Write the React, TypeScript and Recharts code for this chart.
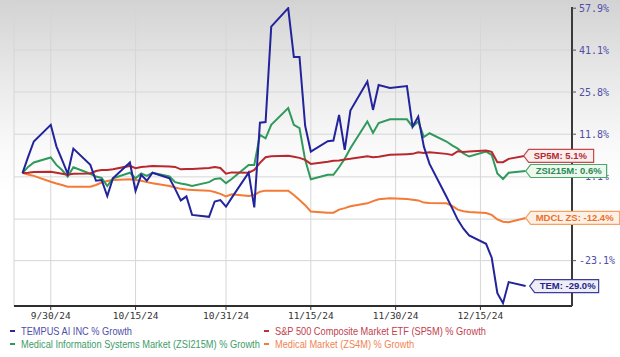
import React from 'react';
import { LineChart, Line, XAxis, YAxis, CartesianGrid } from 'recharts';

const DATES = [
  '2024-09-25', '2024-09-26', '2024-09-27', '2024-09-30',
  '2024-10-01', '2024-10-02', '2024-10-03', '2024-10-04',
  '2024-10-07', '2024-10-08', '2024-10-09', '2024-10-10', '2024-10-11',
  '2024-10-14', '2024-10-15', '2024-10-16', '2024-10-17', '2024-10-18',
  '2024-10-21', '2024-10-22', '2024-10-23', '2024-10-24', '2024-10-25',
  '2024-10-28', '2024-10-29', '2024-10-30', '2024-10-31',
  '2024-11-01',
  '2024-11-04', '2024-11-05', '2024-11-06', '2024-11-07', '2024-11-08',
  '2024-11-11', '2024-11-12', '2024-11-13', '2024-11-14', '2024-11-15',
  '2024-11-18', '2024-11-19', '2024-11-20', '2024-11-21', '2024-11-22',
  '2024-11-25', '2024-11-26', '2024-11-27', '2024-11-29',
  '2024-12-02', '2024-12-03', '2024-12-04', '2024-12-05', '2024-12-06',
  '2024-12-09', '2024-12-10', '2024-12-11', '2024-12-12', '2024-12-13',
  '2024-12-16', '2024-12-17', '2024-12-18', '2024-12-19', '2024-12-20',
  '2024-12-23',
];

const TEM = [
  0, 4.8, 9.5, 14.8,
  8.0, 3.9, -0.2, 7.3,
  2.4, -2.2, -2.0, -6.5, -1.5,
  3.1, -5.1, -0.5, -2.2, 0.1,
  -1.5, -4.5, -7.7, -6.6, -11.6,
  -12.1, -8.0, -7.6, -9.4,
  -7.0,
  0.1, -9.6, 15.5, 15.7, 50.3,
  57.9, 38.5, 38.5, 14.5, 6.4,
  9.6, 9.8, 18.0, 6.9, 19.5,
  29.5, 19.7, 28.3, 27.2,
  27.9, 14.2, 17.5, 7.9, 2.7,
  -6.7, -9.8, -12.9, -15.2, -16.9,
  -19.0, -22.4, -30.6, -32.8, -28.1,
  -29.0,
];

const ZSI215M = [
  0, 1.8, 3.1, 4.6,
  2.4, 0.9, -1.0, 1.7,
  -0.2, -1.0, -1.4, -3.7, -1.5,
  0.1, -1.5, -0.1, -0.8, 0.1,
  -1.0, -2.6, -3.0, -3.3, -3.7,
  -2.6, -1.7, -1.5, -2.9,
  -1.7,
  2.4, 2.4, 11.6, 10.5, 14.8,
  20.3, 14.8, 13.7, 3.9, -1.8,
  -0.5, -0.5, 1.7, 4.2, 7.4,
  15.9, 12.2, 15.4, 16.6,
  16.6, 14.2, 15.9, 10.9, 12.1,
  9.5, 8.3, 7.3, 5.8, 4.9,
  6.4, 5.4, -0.1, -1.7, 0.1,
  0.6,
];

const SP5M = [
  0, 0.1, 0.3, 0.4,
  0.1, -0.2, -0.5, -0.2,
  -0.1, 0.6, 0.9, 0.9, 1.1,
  2.1, 1.4, 1.8, 1.9, 2.1,
  1.9, 1.8, 1.1, 1.2, 1.2,
  1.5, 1.8, 1.5, -0.2,
  0.2,
  0.1, 0.9, 3.0, 4.7, 5.0,
  5.1, 4.8, 4.5, 3.9, 2.7,
  3.3, 3.6, 3.7, 4.0, 4.2,
  5.0, 4.7, 4.8, 5.4,
  5.6, 5.7, 6.2, 6.0, 6.2,
  5.7, 5.4, 6.5, 6.3, 6.4,
  6.7, 6.3, 3.2, 3.2, 4.2,
  5.1,
];

const MDCL = [
  0, -0.4, -0.8, -2.5,
  -3.0, -3.4, -3.9, -3.9,
  -3.9, -3.4, -2.7, -2.3, -2.0,
  -1.8, -2.0, -2.2, -2.6, -2.9,
  -3.7, -4.1, -4.5, -4.7, -4.8,
  -5.0, -5.4, -5.9, -6.6,
  -6.0,
  -6.5, -6.2, -5.3, -5.0, -5.0,
  -5.0, -6.2, -7.6, -9.0, -10.7,
  -11.0, -11.0, -10.2, -9.8, -9.3,
  -8.5, -7.9, -7.4, -7.1,
  -7.3, -7.5, -7.7, -8.3, -8.4,
  -8.5, -9.2, -10.2, -10.6, -10.8,
  -11.1, -11.6, -12.8, -13.4, -13.5,
  -12.4,
];

const X_TICK_DATES = ['2024-09-30', '2024-10-15', '2024-10-31', '2024-11-15', '2024-11-30', '2024-12-15'];
const X_TICK_LABELS = ['9/30/24', '10/15/24', '10/31/24', '11/15/24', '11/30/24', '12/15/24'];
const Y_TICKS = [57.9, 41.1, 25.8, 11.8, -1.1, -12.7, -23.1];

// The value axis is a shifted log axis: position ~ log(AXIS_SHIFT + growth%)
const AXIS_SHIFT = 130;
const START = Date.UTC(2024, 8, 25);
const dayOf = (iso: string) => {
  const [y, m, d] = iso.split('-').map(Number);
  return (Date.UTC(y, m - 1, d) - START) / 86400000;
};
const X_TICK_DAYS = X_TICK_DATES.map(dayOf);

const data = DATES.map((iso, i) => ({
  day: dayOf(iso),
  tem: TEM[i],
  sp5m: SP5M[i],
  zsi: ZSI215M[i],
  mdcl: MDCL[i],
}));

const SERIES = [
  { key: 'mdcl', values: MDCL, tag: 'MDCL ZS', color: '#f47b36', tagStroke: '#f2a267', tagFill: '#fdf1e6', tagText: '#ec6f2c', tagW: 89, tipDx: 0 },
  { key: 'zsi', values: ZSI215M, tag: 'ZSI215M', color: '#2f9a5c', tagStroke: '#4aa86c', tagFill: '#eef8ef', tagText: '#2a8a52', tagW: 76, tipDx: 0 },
  { key: 'sp5m', values: SP5M, tag: 'SP5M', color: '#b8282d', tagStroke: '#c24a4a', tagFill: '#fbeeee', tagText: '#b52a2f', tagW: 65, tipDx: -2 },
  { key: 'tem', values: TEM, tag: 'TEM', color: '#23239c', tagStroke: '#3c3c9c', tagFill: '#eeeef6', tagText: '#26268c', tagW: 64, tipDx: 4 },
];

const LEGEND = [
  { text: 'TEMPUS AI INC % Growth', color: '#4e4eaa', mark: '#2b2b9e', left: 10, top: 324 },
  { text: 'S&P 500 Composite Market ETF (SP5M) % Growth', color: '#c2404c', mark: '#c0303a', left: 264, top: 324 },
  { text: 'Medical Information Systems Market (ZSI215M) % Growth', color: '#3e9c6a', mark: '#2f9a5c', left: 10, top: 337 },
  { text: 'Medical Market (ZS4M) % Growth', color: '#f08454', mark: '#f47b36', left: 264, top: 337 },
];

const makeTag = (s: any) => (props: any) => {
  const { index } = props;
  if (index !== DATES.length - 1) return null;
  const x = props.x ?? props.viewBox?.x;
  const y = props.y ?? props.viewBox?.y;
  if (x == null || y == null) return null;
  const tip = x + s.tipDx;
  const h = 6.5;
  const right = tip + 5 + s.tagW;
  const pts = `${tip},${y} ${tip + 5},${y - h} ${right},${y - h} ${right},${y + h} ${tip + 5},${y + h}`;
  const v = s.values[s.values.length - 1];
  return (
    <g key={`tag-${s.key}`}>
      <polygon points={pts} fill={s.tagFill} stroke={s.tagStroke} strokeWidth={1.2} />
      <text x={tip + 10} y={y + 3.3} fontSize={9.5} fontWeight="bold" fontFamily="'Liberation Sans', Arial, sans-serif" fill={s.tagText}>
        {`${s.tag}: ${v.toFixed(1)}%`}
      </text>
    </g>
  );
};

export default function App() {
  return (
    <div
      style={{
        position: 'absolute',
        left: 0,
        top: 0,
        width: 620,
        height: 357,
        overflow: 'hidden',
        background: 'linear-gradient(to bottom, #d3d3d3 0%, #e9e9e9 22%, #fafafa 42%, #ffffff 55%, #ffffff 100%)',
      }}
    >
      <LineChart width={620} height={357} data={data} margin={{ top: 7, right: 0, bottom: 21, left: 14 }}>
        <CartesianGrid stroke="#d6d6d6" strokeWidth={1} />
        <XAxis
          dataKey="day"
          type="number"
          domain={[-1.5, 97.2]}
          allowDataOverflow
          ticks={X_TICK_DAYS}
          tickFormatter={(t: number) => X_TICK_LABELS[X_TICK_DAYS.indexOf(t)] ?? ''}
          height={30}
          axisLine={{ stroke: '#2e2e2e', strokeWidth: 2 }}
          tickLine={{ stroke: '#2e2e2e', strokeWidth: 1 }}
          tickSize={4}
          tickMargin={2}
          tick={{ fill: '#333333', fontSize: 9.5, fontFamily: "'DejaVu Sans Mono', monospace" }}
        />
        <YAxis
          orientation="right"
          type="number"
          scale="log"
          domain={[96.6, 188.4]}
          allowDataOverflow
          ticks={Y_TICKS.map((v) => v + AXIS_SHIFT)}
          tickFormatter={(t: number) => `${(t - AXIS_SHIFT).toFixed(1)}%`}
          width={48}
          axisLine={{ stroke: '#3a3a3a', strokeWidth: 2 }}
          tickLine={{ stroke: '#555555', strokeWidth: 1 }}
          tickSize={4}
          tickMargin={3}
          tick={{ fill: '#4f4fa8', fontSize: 10, fontFamily: "'DejaVu Sans Mono', monospace", textAnchor: 'start' }}
        />
        {SERIES.map((s) => (
          <Line
            key={s.key}
            type="linear"
            dataKey={(row: any) => row[s.key] + AXIS_SHIFT}
            stroke={s.color}
            strokeWidth={2}
            dot={false}
            activeDot={false}
            isAnimationActive={false}
            label={makeTag(s)}
          />
        ))}
      </LineChart>
      {LEGEND.map((l) => (
        <div
          key={l.text}
          style={{
            position: 'absolute',
            left: l.left,
            top: l.top,
            height: 13,
            display: 'flex',
            alignItems: 'center',
            fontFamily: "'Liberation Sans', Arial, sans-serif",
            fontSize: 11,
            color: l.color,
            whiteSpace: 'nowrap',
          }}
        >
          <span style={{ display: 'inline-block', width: 5, height: 2, background: l.mark, marginRight: 6 }} />
          <span style={{ display: 'inline-block', transform: 'scaleX(0.84)', transformOrigin: 'left center' }}>{l.text}</span>
        </div>
      ))}
    </div>
  );
}
